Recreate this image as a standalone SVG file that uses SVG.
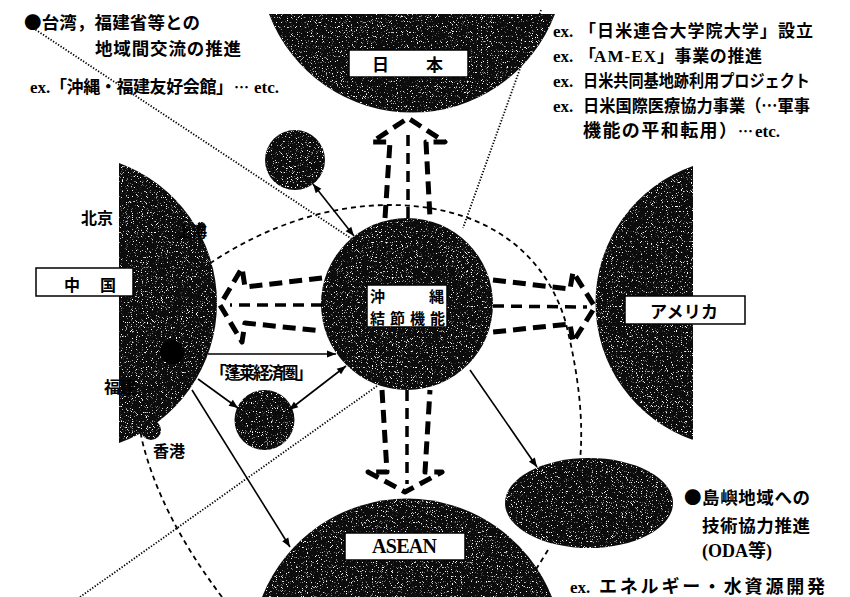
<svg xmlns="http://www.w3.org/2000/svg" width="850" height="597" viewBox="0 0 850 597">
<defs>
<filter id="sp" x="0%" y="0%" width="100%" height="100%" color-interpolation-filters="sRGB">
<feTurbulence type="fractalNoise" baseFrequency="1.2" numOctaves="1" seed="7" result="t"/>
<feColorMatrix in="t" type="matrix" values="0 0 0 0 1  0 0 0 0 1  0 0 0 0 1  10 0 0 0 -6.1" result="w"/>
<feComposite in="w" in2="SourceGraphic" operator="in" result="wc"/>
<feMerge><feMergeNode in="SourceGraphic"/><feMergeNode in="wc"/></feMerge>
</filter>
<marker id="ah" viewBox="0 0 10 10" refX="10" refY="5" markerWidth="10" markerHeight="9" markerUnits="userSpaceOnUse" orient="auto-start-reverse">
<path d="M0,1 L10,5 L0,9 z" fill="#000"/>
</marker>
<style>
.dark{fill:#0c0c0c;}
.lbl{fill:#fff;stroke:#000;stroke-width:1.5;}
.t{font-family:"Liberation Serif","Noto Sans CJK JP",serif;font-weight:bold;fill:#000;}
.tj{font-family:"Noto Sans CJK JP","Liberation Sans",sans-serif;font-weight:bold;fill:#000;}
.big{fill:none;stroke:#000;stroke-width:5;stroke-dasharray:13 7;stroke-linejoin:round;}
.mid{fill:none;stroke:#000;stroke-width:3.5;stroke-dasharray:11 7;}
.dash{fill:none;stroke:#000;stroke-width:1.8;stroke-dasharray:5 4;}
.dot{fill:none;stroke:#000;stroke-width:1.8;stroke-dasharray:1.3 1.7;}
.ar{fill:none;stroke:#000;stroke-width:1.6;}
</style>
</defs>
<rect width="850" height="597" fill="#fff"/>

<g id="background-lines">
<path class="dash" d="M222,597 Q160,515 142,440 C128,370 158,292 212,262 C268,225 330,205 390,205 C470,205 540,240 565,320 C578,370 584,420 580,460"/>
<path class="dash" d="M548,550 L522,592"/>
<line class="dot" x1="33" y1="28" x2="352" y2="239"/>
<line class="dot" x1="541" y1="10" x2="463" y2="228"/>
<line class="dot" x1="80" y1="597" x2="377" y2="386"/>
</g>

<g id="nodes" filter="url(#sp)">
<g id="node-japan"><path class="dark" d="M269,14 A153,153 0 0 0 555,14 Z"/></g>
<g id="node-china"><path class="dark" d="M119,163 A149,149 0 0 1 119,443 Z"/><circle class="dark" cx="151" cy="430" r="10"/><circle class="dark" cx="201" cy="227" r="5"/></g>
<g id="node-america"><path class="dark" d="M693,166 A145,145 0 0 0 693,440 Z"/></g>
<g id="node-asean"><path class="dark" d="M262,597 A156,156 0 0 1 552,597 Z"/></g>
<g id="node-okinawa"><circle class="dark" cx="407" cy="304" r="86"/></g>
<g id="node-circle-upper"><circle class="dark" cx="295" cy="160" r="30"/></g>
<g id="node-circle-lower"><circle class="dark" cx="264.5" cy="420" r="30"/></g>
<g id="node-islands"><ellipse class="dark" cx="589" cy="503" rx="84" ry="45"/></g>
</g>
<circle cx="172" cy="352" r="12" fill="#000"/>

<g id="connectors">
<path class="big" d="M385,218 L390,142 L372,142 L408,118 L445,142 L426,142 L430,218"/>
<path class="mid" d="M408,218 L408,134"/>
<path class="big" d="M382,390 L387,472 L368,472 L405,492 L442,472 L425,472 L430,390"/>
<path class="mid" d="M407,390 L407,484"/>
<path class="big" d="M322,278 L245,287 L242,268 L220,305 L242,342 L245,323 L322,331"/>
<path class="mid" d="M322,305 L230,305"/>
<path class="big" d="M493,280 L570,289 L573,272 L595,307 L573,342 L570,324 L493,332"/>
<path class="mid" d="M493,306 L587,307"/>
<line class="ar" x1="313" y1="184" x2="354" y2="236" marker-start="url(#ah)" marker-end="url(#ah)"/>
<line class="ar" x1="208" y1="354" x2="336" y2="354" marker-end="url(#ah)"/>
<line class="ar" x1="346" y1="366" x2="289" y2="410" marker-start="url(#ah)" marker-end="url(#ah)"/>
<line class="ar" x1="198" y1="379" x2="238" y2="408" marker-end="url(#ah)"/>
<line class="ar" x1="192" y1="390" x2="290" y2="547" marker-end="url(#ah)"/>
<line class="ar" x1="470" y1="370" x2="537" y2="467" marker-end="url(#ah)"/>
</g>

<g id="labels">
<rect class="lbl" x="349" y="50" width="119" height="27"/>
<text class="tj" font-size="17"><tspan x="372" y="71">日</tspan><tspan x="426" y="71">本</tspan></text>
<rect class="lbl" x="36" y="268" width="97" height="28"/>
<text class="tj" font-size="16"><tspan x="64" y="291">中</tspan><tspan x="100" y="291">国</tspan></text>
<rect class="lbl" x="625" y="296" width="120" height="28"/>
<text class="tj" font-size="17" x="650" y="318" textLength="68">アメリカ</text>
<rect class="lbl" x="345" y="533" width="120" height="27"/>
<text class="t" font-size="20" x="372" y="553" textLength="65">ASEAN</text>
<rect class="lbl" x="367" y="285" width="80" height="42"/>
<text class="tj" font-size="15"><tspan x="370" y="302">沖</tspan><tspan x="429" y="302">縄</tspan></text>
<text class="tj" font-size="15" x="370" y="324" textLength="75">結節機能</text>
</g>

<g id="texts">
<text class="tj" font-size="17.5" x="24" y="29" textLength="176">●台湾，福建省等との</text>
<text class="tj" font-size="17.5" x="95" y="55" textLength="146">地域間交流の推進</text>
<text class="t" font-size="17" y="93"><tspan x="30">ex.</tspan><tspan class="tj" x="50" textLength="183">「沖縄・福建友好会館」</tspan><tspan class="tj" x="234" font-size="15">…</tspan><tspan x="254">etc.</tspan></text>

<text class="t" font-size="17" y="37"><tspan x="553">ex.</tspan><tspan class="tj" x="579" textLength="234">「日米連合大学院大学」設立</tspan></text>
<text class="t" font-size="17" y="62"><tspan x="553">ex.</tspan><tspan class="tj" x="579" textLength="14">「</tspan><tspan x="594" textLength="62">AM-EX</tspan><tspan class="tj" x="657" textLength="105">」事業の推進</tspan></text>
<text class="t" font-size="17" y="87"><tspan x="553">ex.</tspan><tspan class="tj" x="583" textLength="227" lengthAdjust="spacingAndGlyphs">日米共同基地跡利用プロジェクト</tspan></text>
<text class="t" font-size="17" y="112"><tspan x="553">ex.</tspan><tspan class="tj" x="583" textLength="227" lengthAdjust="spacingAndGlyphs">日米国際医療協力事業（…軍事</tspan></text>
<text class="t" font-size="17" y="137"><tspan class="tj" x="583" font-size="18" textLength="154">機能の平和転用）</tspan><tspan class="tj" x="738" font-size="15">…</tspan><tspan x="755">etc.</tspan></text>

<text class="tj" font-size="16" x="81" y="224">北京</text>
<text class="tj" font-size="15" x="177" y="237">上海</text>
<text class="tj" font-size="16" x="104" y="393">福建</text>
<text class="tj" font-size="16" x="153" y="457">香港</text>
<text class="tj" font-size="16.5" x="210" y="379" textLength="103">「蓬莱経済圏」</text>

<text class="tj" font-size="17.5" x="684" y="504" textLength="126">●島嶼地域への</text>
<text class="tj" font-size="17.5" x="702" y="532" textLength="108">技術協力推進</text>
<text class="t" font-size="18" y="557"><tspan x="702">(ODA</tspan><tspan class="tj">等</tspan><tspan>)</tspan></text>
<text class="t" font-size="17" y="593"><tspan x="570">ex.</tspan><tspan class="tj" x="599" font-size="18" textLength="226">エネルギー・水資源開発</tspan></text>
</g>
</svg>
